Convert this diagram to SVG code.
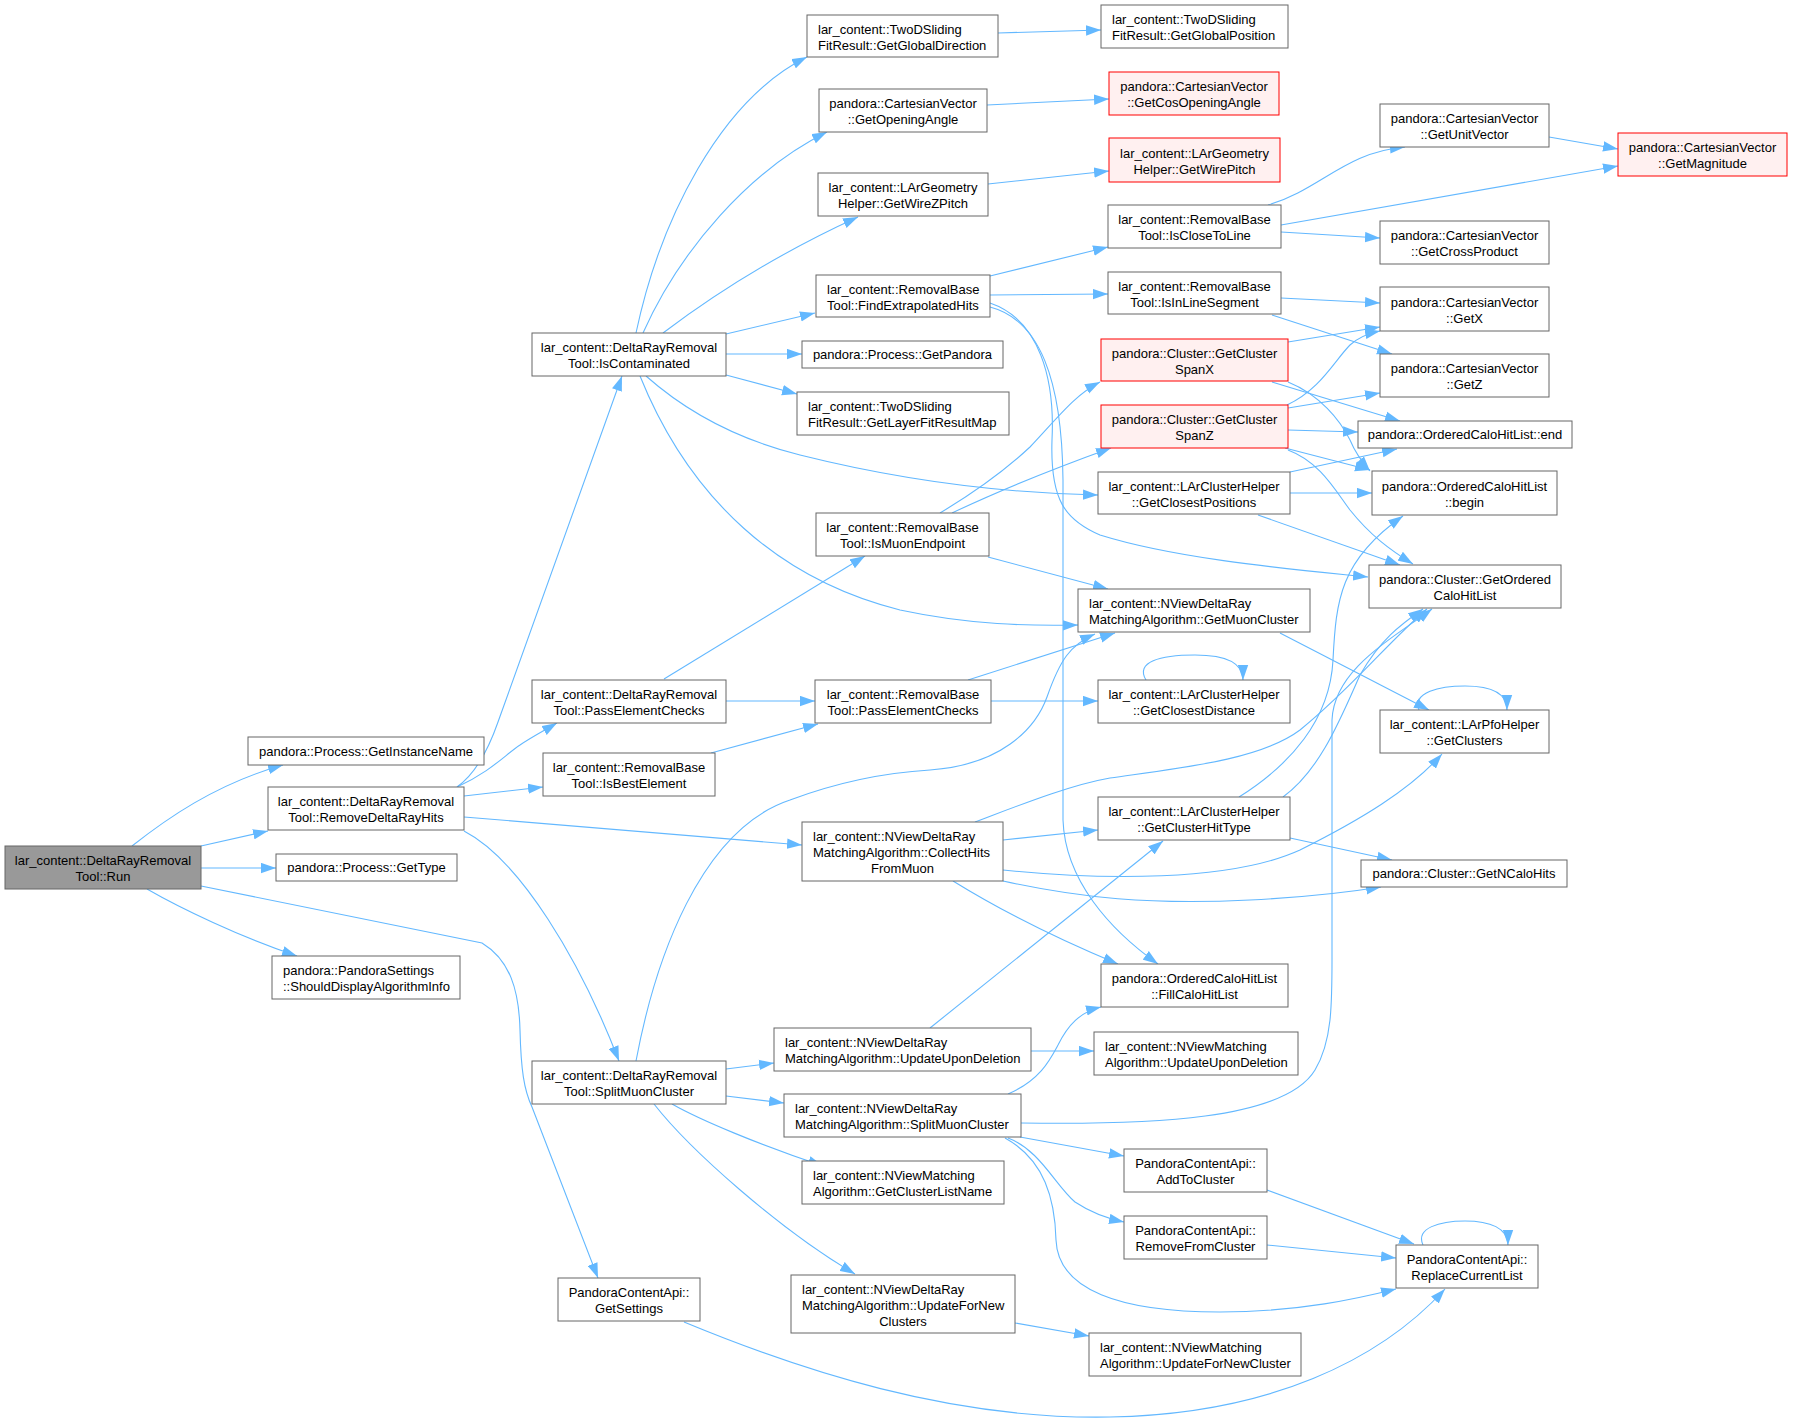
<svg xmlns="http://www.w3.org/2000/svg" width="1793" height="1423" viewBox="0 0 1793 1423">
<defs>
<style>
.n rect{fill:#ffffff;stroke:#666666;stroke-width:1}
.r rect{fill:#fff0f0;stroke:#ff0000;stroke-width:1}
.root rect{fill:#999999;stroke:#666666;stroke-width:1}
text{font-family:"Liberation Sans",Arial,Helvetica,sans-serif;font-size:13px;fill:#000000}
.m{text-anchor:middle}
.l{text-anchor:start}
#edges path{fill:none;stroke:#63b8ff;stroke-width:1.1;marker-end:url(#arr)}
</style>
<marker id="arr" markerUnits="userSpaceOnUse" markerWidth="15" markerHeight="11" refX="15" refY="5.5" orient="auto" viewBox="0 0 15 11">
<path d="M0,0.3 L15,5.5 L0,10.7 z" fill="#63b8ff"/>
</marker>
</defs>
<rect x="0" y="0" width="1793" height="1423" fill="#ffffff"/>
<g id="edges">
<path d="M132,846 C165,820 215,784 283,765"/>
<path d="M201,846 L268,831"/>
<path d="M201,868 L276,868"/>
<path d="M147,889 C180,908 240,937 297,956"/>
<path d="M201,886 L482,943 C510,960 519,990 520,1030 C521,1070 524,1090 532,1107 L598,1278"/>
<path d="M457,787 C478,772 490,745 498,722 L622,376"/>
<path d="M457,787 C490,772 505,755 520,745 C530,738 545,730 557,723"/>
<path d="M464,796 L543,787"/>
<path d="M464,817 L802,845"/>
<path d="M464,831 C520,860 580,960 619,1061"/>
<path d="M636,333 C660,220 720,100 807,57"/>
<path d="M643,333 C680,250 750,170 827,132"/>
<path d="M663,333 C720,290 790,248 858,217"/>
<path d="M726,334 L815,313"/>
<path d="M726,354 L802,354"/>
<path d="M726,375 L797,394"/>
<path d="M646,376 C690,415 740,440 800,455 C900,480 1000,493 1098,495"/>
<path d="M640,376 C690,500 780,580 900,610 C970,625 1030,626 1078,625"/>
<path d="M664,679 L865,556"/>
<path d="M726,701 L815,701"/>
<path d="M711,753 L818,724"/>
<path d="M636,1061 C655,960 700,830 790,800 C830,785 880,773 930,770 C1000,765 1035,730 1047,697 C1060,660 1070,645 1095,634"/>
<path d="M726,1069 L774,1063"/>
<path d="M726,1096 L784,1103"/>
<path d="M672,1104 C700,1120 760,1145 823,1166"/>
<path d="M654,1104 C690,1150 780,1230 855,1274"/>
<path d="M684,1322 C800,1370 950,1420 1110,1417 C1270,1414 1380,1360 1445,1289"/>
<path d="M998,33 L1101,30"/>
<path d="M987,105 L1109,99"/>
<path d="M988,184 L1109,171"/>
<path d="M990,276 L1108,247"/>
<path d="M990,295 L1108,294"/>
<path d="M990,303 C1040,320 1055,380 1052,440 C1050,500 1065,520 1100,535 C1180,560 1300,570 1368,577"/>
<path d="M990,307 C1040,320 1062,380 1063,480 L1063,820 C1065,880 1110,930 1158,964"/>
<path d="M1268,205 C1320,190 1345,152 1405,147"/>
<path d="M1281,225 L1618,166"/>
<path d="M1281,232 L1380,238"/>
<path d="M1549,137 L1618,149"/>
<path d="M1281,298 L1380,303"/>
<path d="M1272,315 L1392,354"/>
<path d="M1288,342 L1380,327"/>
<path d="M1287,405 C1320,390 1335,360 1350,345 C1360,336 1370,333 1380,331"/>
<path d="M1288,408 L1380,393"/>
<path d="M1272,382 L1400,421"/>
<path d="M1288,382 C1320,395 1340,420 1350,440 C1355,452 1362,462 1370,471"/>
<path d="M1288,430 L1358,432"/>
<path d="M1285,448 L1370,470"/>
<path d="M1288,450 C1320,462 1335,490 1350,510 C1370,535 1390,550 1413,564"/>
<path d="M1290,472 L1397,449"/>
<path d="M1290,493 L1372,493"/>
<path d="M1258,515 L1400,565"/>
<path d="M940,513 C970,495 1000,475 1030,447 C1060,415 1075,395 1100,382"/>
<path d="M952,513 C990,495 1050,470 1111,448"/>
<path d="M988,557 L1108,589"/>
<path d="M968,680 L1115,633"/>
<path d="M991,701 L1098,701"/>
<path d="M1146,680 C1135,662 1160,655 1195,655 C1225,655 1243,662 1243,680"/>
<path d="M1280,633 L1429,710"/>
<path d="M1419,710 C1412,692 1440,686 1465,686 C1490,686 1507,692 1507,710"/>
<path d="M975,822 C1020,805 1070,785 1110,778 C1180,768 1260,760 1300,730 C1350,690 1390,640 1427,609"/>
<path d="M1003,840 L1098,830"/>
<path d="M1003,870 C1100,880 1230,882 1300,850 C1360,820 1410,790 1442,754"/>
<path d="M1003,881 C1080,898 1150,905 1250,900 C1310,897 1350,892 1381,887"/>
<path d="M953,881 C1000,910 1060,940 1118,964"/>
<path d="M1239,797 C1290,765 1330,720 1333,660 C1336,600 1340,560 1403,516"/>
<path d="M1283,797 C1320,770 1340,720 1360,675 C1380,640 1400,625 1423,609"/>
<path d="M1021,1123 C1150,1125 1285,1120 1315,1070 C1333,1040 1332,1000 1332,950 L1332,720 C1334,670 1390,640 1432,609"/>
<path d="M1290,838 L1392,860"/>
<path d="M930,1028 L1163,841"/>
<path d="M1031,1051 L1094,1051"/>
<path d="M1008,1094 C1040,1080 1050,1060 1058,1045 C1068,1025 1080,1012 1101,1007"/>
<path d="M1020,1137 L1124,1156"/>
<path d="M1008,1138 C1040,1150 1055,1185 1075,1202 C1090,1212 1105,1218 1124,1222"/>
<path d="M1005,1138 C1045,1160 1055,1200 1056,1240 C1058,1290 1120,1312 1220,1312 C1300,1312 1360,1298 1396,1289"/>
<path d="M1267,1190 L1414,1244"/>
<path d="M1267,1245 L1396,1258"/>
<path d="M1423,1245 C1415,1228 1440,1221 1465,1221 C1490,1221 1508,1228 1508,1245"/>
<path d="M1015,1323 L1089,1336"/>
</g>
<g id="n_run" class="root"><rect x="5" y="846" width="196" height="43"/><text class="m" x="103" y="865">lar_content::DeltaRayRemoval</text><text class="m" x="103" y="881">Tool::Run</text></g>
<g id="n_getinstancename" class="n"><rect x="248" y="737" width="236" height="28"/><text class="m" x="366" y="755.7">pandora::Process::GetInstanceName</text></g>
<g id="n_removedeltarayhits" class="n"><rect x="268" y="787" width="196" height="43"/><text class="m" x="366" y="806">lar_content::DeltaRayRemoval</text><text class="m" x="366" y="822">Tool::RemoveDeltaRayHits</text></g>
<g id="n_gettype" class="n"><rect x="276" y="854" width="181" height="27"/><text class="m" x="366.5" y="872.2">pandora::Process::GetType</text></g>
<g id="n_shoulddisplay" class="n"><rect x="272" y="956" width="188" height="43"/><text class="l" x="283" y="975">pandora::PandoraSettings</text><text class="l" x="283" y="991">::ShouldDisplayAlgorithmInfo</text></g>
<g id="n_iscontaminated" class="n"><rect x="532" y="333" width="194" height="43"/><text class="m" x="629" y="352">lar_content::DeltaRayRemoval</text><text class="m" x="629" y="368">Tool::IsContaminated</text></g>
<g id="n_passelementchecks_drr" class="n"><rect x="532" y="680" width="194" height="43"/><text class="m" x="629" y="699">lar_content::DeltaRayRemoval</text><text class="m" x="629" y="715">Tool::PassElementChecks</text></g>
<g id="n_isbestelement" class="n"><rect x="543" y="753" width="172" height="43"/><text class="m" x="629" y="772">lar_content::RemovalBase</text><text class="m" x="629" y="788">Tool::IsBestElement</text></g>
<g id="n_splitmuoncluster_drr" class="n"><rect x="532" y="1061" width="194" height="43"/><text class="m" x="629" y="1080">lar_content::DeltaRayRemoval</text><text class="m" x="629" y="1096">Tool::SplitMuonCluster</text></g>
<g id="n_getsettings" class="n"><rect x="558" y="1278" width="142" height="43"/><text class="m" x="629" y="1297">PandoraContentApi::</text><text class="m" x="629" y="1313">GetSettings</text></g>
<g id="n_getglobaldirection" class="n"><rect x="807" y="15" width="191" height="42"/><text class="l" x="818" y="33.5">lar_content::TwoDSliding</text><text class="l" x="818" y="49.5">FitResult::GetGlobalDirection</text></g>
<g id="n_getopeningangle" class="n"><rect x="819" y="89" width="168" height="43"/><text class="m" x="903" y="108">pandora::CartesianVector</text><text class="m" x="903" y="124">::GetOpeningAngle</text></g>
<g id="n_getwirezpitch" class="n"><rect x="818" y="173" width="170" height="43"/><text class="m" x="903" y="192">lar_content::LArGeometry</text><text class="m" x="903" y="208">Helper::GetWireZPitch</text></g>
<g id="n_findextrapolatedhits" class="n"><rect x="816" y="275" width="174" height="42"/><text class="l" x="827" y="293.5">lar_content::RemovalBase</text><text class="l" x="827" y="309.5">Tool::FindExtrapolatedHits</text></g>
<g id="n_getpandora" class="n"><rect x="802" y="341" width="201" height="27"/><text class="m" x="902.5" y="359.2">pandora::Process::GetPandora</text></g>
<g id="n_getlayerfitresultmap" class="n"><rect x="797" y="392" width="212" height="43"/><text class="l" x="808" y="411">lar_content::TwoDSliding</text><text class="l" x="808" y="427">FitResult::GetLayerFitResultMap</text></g>
<g id="n_ismuonendpoint" class="n"><rect x="816" y="513" width="173" height="43"/><text class="m" x="902.5" y="532">lar_content::RemovalBase</text><text class="m" x="902.5" y="548">Tool::IsMuonEndpoint</text></g>
<g id="n_passelementchecks_rb" class="n"><rect x="815" y="680" width="176" height="43"/><text class="m" x="903" y="699">lar_content::RemovalBase</text><text class="m" x="903" y="715">Tool::PassElementChecks</text></g>
<g id="n_collecthitsfrommuon" class="n"><rect x="802" y="822" width="201" height="59"/><text class="l" x="813" y="841">lar_content::NViewDeltaRay</text><text class="l" x="813" y="857">MatchingAlgorithm::CollectHits</text><text class="m" x="902.5" y="873">FromMuon</text></g>
<g id="n_updateupondeletion_nvdr" class="n"><rect x="774" y="1028" width="257" height="43"/><text class="l" x="785" y="1047">lar_content::NViewDeltaRay</text><text class="l" x="785" y="1063">MatchingAlgorithm::UpdateUponDeletion</text></g>
<g id="n_splitmuoncluster_nvdr" class="n"><rect x="784" y="1094" width="237" height="43"/><text class="l" x="795" y="1113">lar_content::NViewDeltaRay</text><text class="l" x="795" y="1129">MatchingAlgorithm::SplitMuonCluster</text></g>
<g id="n_getclusterlistname" class="n"><rect x="802" y="1161" width="202" height="43"/><text class="l" x="813" y="1180">lar_content::NViewMatching</text><text class="l" x="813" y="1196">Algorithm::GetClusterListName</text></g>
<g id="n_updatefornewclusters" class="n"><rect x="791" y="1275" width="224" height="58"/><text class="l" x="802" y="1293.5">lar_content::NViewDeltaRay</text><text class="l" x="802" y="1309.5">MatchingAlgorithm::UpdateForNew</text><text class="m" x="903" y="1325.5">Clusters</text></g>
<g id="n_getglobalposition" class="n"><rect x="1101" y="5" width="187" height="43"/><text class="l" x="1112" y="24">lar_content::TwoDSliding</text><text class="l" x="1112" y="40">FitResult::GetGlobalPosition</text></g>
<g id="n_getcosopeningangle" class="r"><rect x="1109" y="72" width="170" height="43"/><text class="m" x="1194" y="91">pandora::CartesianVector</text><text class="m" x="1194" y="107">::GetCosOpeningAngle</text></g>
<g id="n_getwirepitch" class="r"><rect x="1109" y="138" width="171" height="44"/><text class="m" x="1194.5" y="157.5">lar_content::LArGeometry</text><text class="m" x="1194.5" y="173.5">Helper::GetWirePitch</text></g>
<g id="n_isclosetoline" class="n"><rect x="1108" y="205" width="173" height="43"/><text class="m" x="1194.5" y="224">lar_content::RemovalBase</text><text class="m" x="1194.5" y="240">Tool::IsCloseToLine</text></g>
<g id="n_isinlinesegment" class="n"><rect x="1108" y="272" width="173" height="42"/><text class="m" x="1194.5" y="290.5">lar_content::RemovalBase</text><text class="m" x="1194.5" y="306.5">Tool::IsInLineSegment</text></g>
<g id="n_getclusterspanx" class="r"><rect x="1101" y="339" width="187" height="42"/><text class="m" x="1194.5" y="357.5">pandora::Cluster::GetCluster</text><text class="m" x="1194.5" y="373.5">SpanX</text></g>
<g id="n_getclusterspanz" class="r"><rect x="1101" y="405" width="187" height="43"/><text class="m" x="1194.5" y="424">pandora::Cluster::GetCluster</text><text class="m" x="1194.5" y="440">SpanZ</text></g>
<g id="n_getclosestpositions" class="n"><rect x="1098" y="472" width="192" height="42"/><text class="m" x="1194" y="490.5">lar_content::LArClusterHelper</text><text class="m" x="1194" y="506.5">::GetClosestPositions</text></g>
<g id="n_getmuoncluster" class="n"><rect x="1078" y="589" width="232" height="43"/><text class="l" x="1089" y="608">lar_content::NViewDeltaRay</text><text class="l" x="1089" y="624">MatchingAlgorithm::GetMuonCluster</text></g>
<g id="n_getclosestdistance" class="n"><rect x="1098" y="680" width="192" height="43"/><text class="m" x="1194" y="699">lar_content::LArClusterHelper</text><text class="m" x="1194" y="715">::GetClosestDistance</text></g>
<g id="n_getclusterhittype" class="n"><rect x="1098" y="797" width="192" height="43"/><text class="m" x="1194" y="816">lar_content::LArClusterHelper</text><text class="m" x="1194" y="832">::GetClusterHitType</text></g>
<g id="n_fillcalohitlist" class="n"><rect x="1101" y="964" width="187" height="43"/><text class="m" x="1194.5" y="983">pandora::OrderedCaloHitList</text><text class="m" x="1194.5" y="999">::FillCaloHitList</text></g>
<g id="n_updateupondeletion_nvm" class="n"><rect x="1094" y="1032" width="204" height="43"/><text class="l" x="1105" y="1051">lar_content::NViewMatching</text><text class="l" x="1105" y="1067">Algorithm::UpdateUponDeletion</text></g>
<g id="n_addtocluster" class="n"><rect x="1124" y="1149" width="143" height="43"/><text class="m" x="1195.5" y="1168">PandoraContentApi::</text><text class="m" x="1195.5" y="1184">AddToCluster</text></g>
<g id="n_removefromcluster" class="n"><rect x="1124" y="1216" width="143" height="43"/><text class="m" x="1195.5" y="1235">PandoraContentApi::</text><text class="m" x="1195.5" y="1251">RemoveFromCluster</text></g>
<g id="n_updatefornewcluster" class="n"><rect x="1089" y="1333" width="212" height="43"/><text class="l" x="1100" y="1352">lar_content::NViewMatching</text><text class="l" x="1100" y="1368">Algorithm::UpdateForNewCluster</text></g>
<g id="n_getunitvector" class="n"><rect x="1380" y="104" width="169" height="43"/><text class="m" x="1464.5" y="123">pandora::CartesianVector</text><text class="m" x="1464.5" y="139">::GetUnitVector</text></g>
<g id="n_getmagnitude" class="r"><rect x="1618" y="133" width="169" height="43"/><text class="m" x="1702.5" y="152">pandora::CartesianVector</text><text class="m" x="1702.5" y="168">::GetMagnitude</text></g>
<g id="n_getcrossproduct" class="n"><rect x="1380" y="221" width="169" height="43"/><text class="m" x="1464.5" y="240">pandora::CartesianVector</text><text class="m" x="1464.5" y="256">::GetCrossProduct</text></g>
<g id="n_getx" class="n"><rect x="1380" y="287" width="169" height="44"/><text class="m" x="1464.5" y="306.5">pandora::CartesianVector</text><text class="m" x="1464.5" y="322.5">::GetX</text></g>
<g id="n_getz" class="n"><rect x="1380" y="354" width="169" height="43"/><text class="m" x="1464.5" y="373">pandora::CartesianVector</text><text class="m" x="1464.5" y="389">::GetZ</text></g>
<g id="n_end" class="n"><rect x="1358" y="421" width="214" height="27"/><text class="m" x="1465" y="439.2">pandora::OrderedCaloHitList::end</text></g>
<g id="n_begin" class="n"><rect x="1372" y="471" width="185" height="44"/><text class="m" x="1464.5" y="490.5">pandora::OrderedCaloHitList</text><text class="m" x="1464.5" y="506.5">::begin</text></g>
<g id="n_getorderedcalohitlist" class="n"><rect x="1369" y="565" width="192" height="43"/><text class="m" x="1465" y="584">pandora::Cluster::GetOrdered</text><text class="m" x="1465" y="600">CaloHitList</text></g>
<g id="n_getclusters" class="n"><rect x="1380" y="710" width="169" height="43"/><text class="m" x="1464.5" y="729">lar_content::LArPfoHelper</text><text class="m" x="1464.5" y="745">::GetClusters</text></g>
<g id="n_getncalohits" class="n"><rect x="1361" y="860" width="206" height="27"/><text class="m" x="1464" y="878.2">pandora::Cluster::GetNCaloHits</text></g>
<g id="n_replacecurrentlist" class="n"><rect x="1396" y="1245" width="142" height="43"/><text class="m" x="1467" y="1264">PandoraContentApi::</text><text class="m" x="1467" y="1280">ReplaceCurrentList</text></g>
</svg>
